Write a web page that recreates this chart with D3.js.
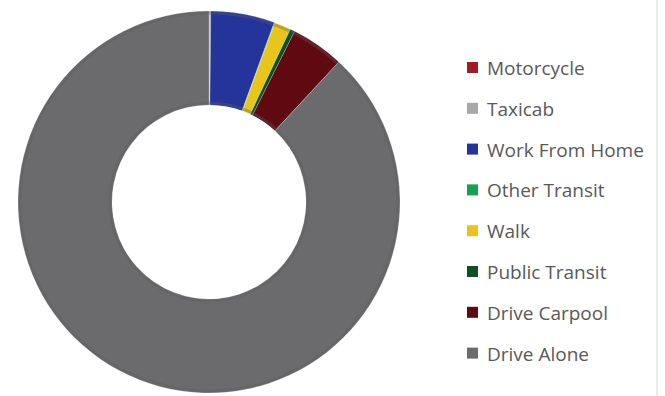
<!DOCTYPE html>
<html>
<head>
<meta charset="utf-8">
<script src="https://cdn.jsdelivr.net/npm/d3@7"></script>
<style>
  body { margin: 0; background: #fff; }
  svg { display: block; }
</style>
</head>
<body>
<script>
var w = 665;
var h = 396;

// commute mode shares (percent)
var modes = ["Motorcycle", "Taxicab", "Work From Home", "Other Transit", "Walk", "Public Transit", "Drive Carpool", "Drive Alone"];
var shares = [0.05, 0.1, 5.4, 0.05, 1.4, 0.4, 4.5, 88.1];
var colors = ["#a01c25", "#a8a8a8", "#24349a", "#16a04f", "#e8c51c", "#0e4f25", "#5e0a10", "#6b6b6e"];

var svg = d3.select("body")
    .append("svg")
    .attr("width", w)
    .attr("height", h);

// faint frame line at the right
svg.append("line")
    .attr("x1", 657).attr("x2", 657)
    .attr("y1", 0).attr("y2", h)
    .style("stroke", "#e6e6e6")
    .style("stroke-width", 1.5);

var color = d3.scaleOrdinal()
    .domain(modes)
    .range(colors);

var data = modes.map(function(m, i) {
    return {mode: m, value: shares[i]};
});

var pie = d3.pie()
    .sort(null)
    .value(function(d) { return d.value; });

var arc = d3.arc()
    .innerRadius(97)
    .outerRadius(191);

var chart = svg.append("g")
    .attr("transform", "translate(209, 202)");

chart.selectAll("path")
    .data(pie(data))
    .enter()
    .append("path")
    .attr("d", arc)
    .style("fill", function(d) { return color(d.data.mode); })
    .style("stroke", "#ffffff")
    .style("stroke-opacity", 0.4)
    .style("stroke-width", 0.6);

// slight darker rim on the outer and inner edges
chart.append("circle")
    .attr("r", 189)
    .style("fill", "none")
    .style("stroke", "#5f5f62")
    .style("stroke-opacity", 0.35)
    .style("stroke-width", 3);

chart.append("circle")
    .attr("r", 99)
    .style("fill", "none")
    .style("stroke", "#5f5f62")
    .style("stroke-opacity", 0.35)
    .style("stroke-width", 3);

// legend
var legend = svg.append("g")
    .attr("transform", "translate(467, 62)");

modes.forEach(function(m, i) {
    legend.append("rect")
        .attr("x", 0)
        .attr("y", i * 40.8)
        .attr("width", 11)
        .attr("height", 11)
        .style("fill", color(m));

    legend.append("text")
        .attr("x", 20)
        .attr("y", i * 40.8 + 13)
        .style("font-family", "Open Sans, sans-serif")
        .style("font-size", "19px")
        .style("fill", "#595959")
        .text(m);
});
</script>
</body>
</html>
